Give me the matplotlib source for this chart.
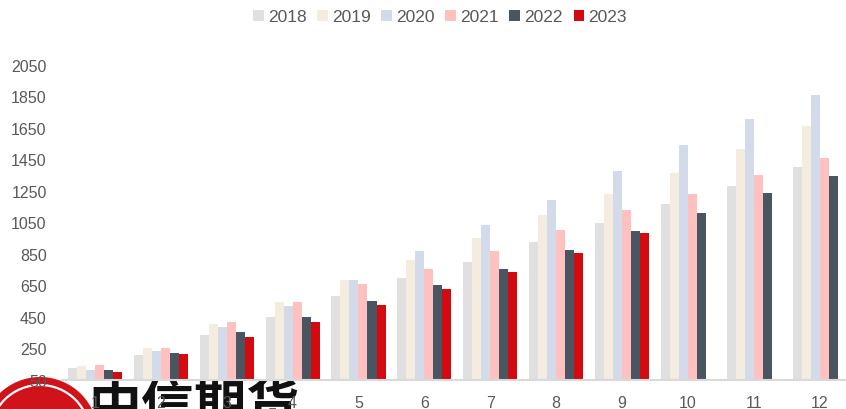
import matplotlib
matplotlib.use("Agg")
import matplotlib.pyplot as plt
from matplotlib.patches import Circle, Wedge
import numpy as np

months = ["1", "2", "3", "4", "5", "6", "7", "8", "9", "10", "11", "12"]
years = ["2018", "2019", "2020", "2021", "2022", "2023"]
v2018 = [128, 208, 338, 448, 580, 694, 801, 927, 1049, 1167, 1283, 1401]
v2019 = [138, 252, 405, 544, 686, 810, 953, 1098, 1230, 1363, 1515, 1664]
v2020 = [113, 233, 385, 521, 686, 866, 1035, 1193, 1374, 1542, 1708, 1856]
v2021 = [147, 252, 420, 544, 656, 757, 871, 1003, 1128, 1230, 1349, 1458]
v2022 = [113, 220, 355, 452, 553, 654, 757, 875, 997, 1111, 1235, 1344]
v2023 = [100, 214, 323, 420, 523, 629, 736, 856, 982]
series = [v2018, v2019, v2020, v2021, v2022, v2023]
colors = ["#e0e0e0", "#f3ecdf", "#d3dbea", "#ffc0c0", "#4a5562", "#d30a10"]

W, H = 846, 410
fig = plt.figure(figsize=(W / 100, H / 100), dpi=100)
base = 50
ax = fig.add_axes([62 / W, (H - 381) / H, (846 - 62) / W, (381 - 65.7) / H])

n = len(series)
bw = 0.137
x = np.arange(len(months))
for i, (vals, c, lab) in enumerate(zip(series, colors, years)):
    xs = x[:len(vals)] + (i - (n - 1) / 2) * bw
    ax.bar(xs, np.array(vals) - base, bottom=base, width=bw, color=c,
           label=lab, zorder=2, linewidth=0)

ax.set_ylim(50, 2050)
ax.set_yticks(np.arange(50, 2051, 200))
ax.set_xlim(-0.5, 11.4)
ax.set_xticks(x)
ax.set_xticklabels(months)
for s in ["left", "right", "top"]:
    ax.spines[s].set_visible(False)
ax.spines["bottom"].set_color("#d9d9d9")
ax.spines["bottom"].set_linewidth(1.5)
ax.spines["bottom"].set_zorder(3)
ax.tick_params(axis="both", length=0, labelsize=11.5, labelcolor="#595959")
ax.tick_params(axis="y", pad=11)
ax.tick_params(axis="x", pad=11)
for t in ax.get_xticklabels() + ax.get_yticklabels():
    t.set_fontfamily("Liberation Sans")
    t.set_zorder(6)

leg = fig.legend(loc="center", bbox_to_anchor=(440 / W, (H - 18) / H), ncol=6,
                 frameon=False, handlelength=0.62, handleheight=0.62,
                 handletextpad=0.25, columnspacing=0.6,
                 prop={"family": "Liberation Sans", "size": 12.5})
for t in leg.get_texts():
    t.set_color("#595959")

# watermark logo (bottom-left)
wax = fig.add_axes([0, 0, 1, 1], zorder=-1)
wax.set_xlim(0, W)
wax.set_ylim(H, 0)
wax.axis("off")
cx, cy, r = 40, 436, 58
wax.add_patch(Circle((cx, cy), r, color="#d0121b", lw=0))
wax.add_patch(Circle((cx, cy), r - 8, fill=False, ec="white", lw=1.6))
for dx in (-22, -8, 8, 22):
    wax.add_patch(Wedge((cx + dx, cy - 5), 16, 180, 360, width=3, color="white", lw=0))
wax.text(88, 381, "中信期货", fontsize=38, fontweight="bold", color="#111111",
         va="top", ha="left", family=["Noto Sans CJK SC", "DejaVu Sans"])

fig.savefig("out.png", dpi=100)
